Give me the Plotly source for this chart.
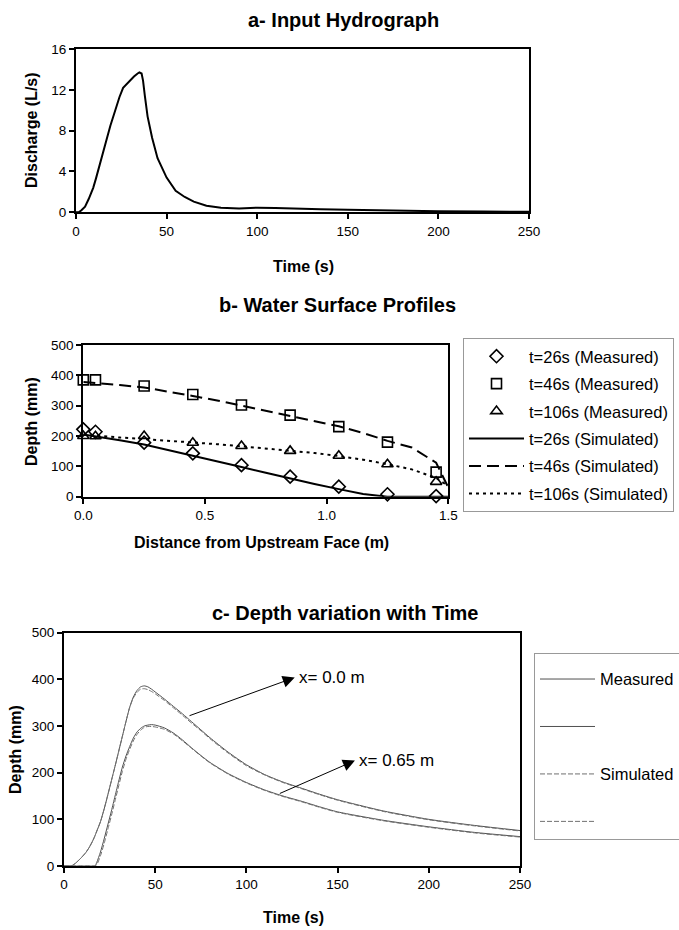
import plotly.graph_objects as go

# ---------------- data ----------------
# a- Input hydrograph
hydro_time = [0, 1.5, 3, 5, 7, 9.5, 11, 13, 15, 17, 19, 21, 22.5, 24, 26, 28, 30, 32, 34, 35,
              36.2, 37, 38, 39.5, 42, 45, 50, 55, 60, 65, 72, 80, 90, 100, 110, 120, 135, 150,
              175, 200, 225, 250]
hydro_discharge = [0, 0, 0.2, 0.55, 1.3, 2.4, 3.3, 4.7, 6.0, 7.2, 8.5, 9.6, 10.6, 11.3, 12.2, 12.6,
                   13.0, 13.3, 13.6, 13.7, 13.6, 12.9, 11.4, 9.4, 7.3, 5.3, 3.4, 2.1, 1.5, 1.05,
                   0.65, 0.45, 0.38, 0.45, 0.42, 0.35, 0.3, 0.25, 0.15, 0.1, 0.07, 0.05]

# b- Water surface profiles
profile_x = [0, 0.05, 0.25, 0.45, 0.65, 0.85, 1.05, 1.25, 1.45]
meas_t26 = [222, 214, 178, 143, 104, 66, 33, 8, 2]
meas_t46 = [385, 385, 365, 337, 302, 269, 231, 180, 81]
meas_t106 = [200, 199, 200, 178, 167, 151, 135, 107, 49]

sim_x = [0, 0.05, 0.15, 0.25, 0.35, 0.45, 0.55, 0.65, 0.75, 0.85, 0.95, 1.05, 1.15, 1.25, 1.35, 1.45, 1.5]
sim_t26 = [205, 199, 186, 172, 154, 135, 116, 98, 79, 60, 42, 25, 9, 0, 0, 0, 0]
sim_t46 = [378, 375, 368, 360, 347, 332, 317, 300, 285, 268, 251, 232, 210, 184, 162, 112, 30]
sim_t106 = [205, 201, 195, 190, 185, 180, 173, 166, 159, 152, 144, 134, 122, 107, 90, 62, 35]

# c- Depth variation with time
depth_time = [0, 4, 6, 8, 10, 12, 14, 16, 17, 18, 20, 22, 24, 26, 28, 30, 32, 34, 36, 38, 40, 42,
              44, 46, 48, 50, 55, 60, 65, 70, 75, 80, 90, 100, 110, 120, 130, 140, 150, 175, 200,
              225, 250]
meas_x0 = [0, 0, 5, 12, 20, 29, 41, 56, 65, 75, 95, 122, 152, 183, 214, 246, 278, 310, 340, 362,
           376, 384, 386, 384, 379, 373, 358, 342, 326, 309, 292, 275, 244, 217, 196, 180, 167,
           154, 142, 118, 100, 87, 76]
sim_x0 = [0, 0, 5, 12, 20, 29, 41, 56, 65, 75, 95, 122, 152, 183, 214, 246, 278, 310, 340, 360,
          372, 379, 380, 378, 374, 369, 355, 339, 323, 306, 290, 273, 242, 215, 195, 179, 166,
          153, 141, 117, 99, 86, 75]
meas_x065 = [0, 0, 0, 0, 0, 0, 0, 0, 0, 8, 30, 58, 88, 118, 150, 182, 212, 236, 256, 274, 287,
             295, 300, 302, 303, 302, 296, 285, 270, 253, 237, 222, 198, 179, 163, 150, 139, 127,
             116, 98, 84, 72, 63]
sim_x065 = [0, 0, 0, 0, 0, 0, 0, 0, 0, 3, 22, 48, 78, 108, 140, 172, 203, 229, 250, 268, 282,
            291, 297, 299, 299, 298, 293, 283, 268, 252, 236, 221, 197, 178, 162, 149, 138, 126,
            115, 97, 83, 71, 62]

# annotation anchors (data coords of panel c)
arrow0_tail = (68, 321)
arrow0_head = (126.5, 404)
arrow065_tail = (117.5, 154)
arrow065_head = (159.5, 226)

# ---------------- figure ----------------
FONT = "Liberation Sans, Arial, sans-serif"
W, H = 679, 930

fig = go.Figure()

# panel a
fig.add_trace(go.Scatter(x=hydro_time, y=hydro_discharge, mode="lines",
                         line=dict(color="black", width=2), showlegend=False,
                         xaxis="x", yaxis="y"))

# panel b - measured
for y, sym, nm in [(meas_t26, "diamond-open", "t=26s (Measured)"),
                   (meas_t46, "square-open", "t=46s (Measured)"),
                   (meas_t106, "triangle-up-open", "t=106s (Measured)")]:
    fig.add_trace(go.Scatter(x=profile_x, y=y, mode="markers", name=nm,
                             marker=dict(symbol=sym, size=10, color="black",
                                         line=dict(color="black", width=1.6)),
                             cliponaxis=False, xaxis="x2", yaxis="y2",
                             legend="legend", legendgroup=nm))
# panel b - simulated
for y, dash, nm in [(sim_t26, "solid", "t=26s (Simulated)"),
                    (sim_t46, "12px,6px", "t=46s (Simulated)"),
                    (sim_t106, "3px,4px", "t=106s (Simulated)")]:
    fig.add_trace(go.Scatter(x=sim_x, y=y, mode="lines", name=nm,
                             line=dict(color="black", width=2, dash=dash),
                             xaxis="x2", yaxis="y2", legend="legend", legendgroup=nm))

# panel c
for y, dash, col, nm, grp in [(meas_x0, "solid", "#505050", "Measured", "m0"),
                              (meas_x065, "solid", "#505050", " ", "m1"),
                              (sim_x0, "5px,2px", "#707070", "Simulated", "s0"),
                              (sim_x065, "5px,2px", "#707070", " ", "s1")]:
    fig.add_trace(go.Scatter(x=depth_time, y=y, mode="lines", name=nm,
                             line=dict(color=col, width=1, dash=dash, shape="spline",
                                       smoothing=0.6),
                             xaxis="x3", yaxis="y3", legend="legend2", legendgroup=grp))

axis_common = dict(showline=True, linecolor="black", linewidth=2, mirror=True,
                   ticks="outside", ticklen=5, tickwidth=2, tickcolor="black",
                   showgrid=False, zeroline=False,
                   tickfont=dict(family=FONT, size=13.5, color="black"))


def dom(px0, px1, total):
    return [px0 / total, px1 / total]


fig.update_layout(
    width=W, height=H,
    margin=dict(l=0, r=0, t=0, b=0, autoexpand=False),
    paper_bgcolor="white", plot_bgcolor="white",
    font=dict(family=FONT, color="black"),
    xaxis=dict(domain=dom(76, 529, W), range=[0, 250], tickvals=[0, 50, 100, 150, 200, 250],
               anchor="y", **axis_common),
    yaxis=dict(domain=[1 - 212.3 / H, 1 - 49 / H], range=[0, 16], tickvals=[0, 4, 8, 12, 16],
               anchor="x", **axis_common),
    xaxis2=dict(domain=dom(83.3, 448.3, W), range=[0, 1.5], tickvals=[0, 0.5, 1.0, 1.5],
                tickformat=".1f", anchor="y2", **axis_common),
    yaxis2=dict(domain=[1 - 496.7 / H, 1 - 345 / H], range=[0, 500],
                tickvals=[0, 100, 200, 300, 400, 500], anchor="x2", **axis_common),
    xaxis3=dict(domain=dom(64, 520, W), range=[0, 250], tickvals=[0, 50, 100, 150, 200, 250],
                anchor="y3", **axis_common),
    yaxis3=dict(domain=[1 - 866 / H, 1 - 632.7 / H], range=[0, 500],
                tickvals=[0, 100, 200, 300, 400, 500], anchor="x3", **axis_common),
    legend=dict(x=463 / W, y=1 - 338 / H, xanchor="left", yanchor="top",
                bordercolor="#999999", borderwidth=1, bgcolor="white",
                font=dict(family=FONT, size=16.5, color="black"),
                tracegroupgap=3, itemwidth=55, traceorder="grouped"),
    legend2=dict(x=534 / W, y=1 - 653 / H, xanchor="left", yanchor="top",
                 bordercolor="#999999", borderwidth=1, bgcolor="white",
                 font=dict(family=FONT, size=16.5, color="black"),
                 title=dict(text=" ", font=dict(family=FONT, size=6)),
                 tracegroupgap=23, itemwidth=55, traceorder="grouped"),
)

annots = []
# panel titles
for txt, cx, cy in [("a- Input Hydrograph", 343, 20),
                    ("b- Water Surface Profiles", 337.5, 305),
                    ("c- Depth variation with Time", 345, 613)]:
    annots.append(dict(text=f"<b>{txt}</b>", x=cx / W, y=1 - cy / H, xref="paper", yref="paper",
                       xanchor="center", yanchor="middle", showarrow=False,
                       font=dict(family=FONT, size=20, color="black")))
# axis titles
for txt, cx, cy, ang in [("Discharge (L/s)", 31, 130, -90), ("Time (s)", 303.5, 266, 0),
                         ("Depth (mm)", 31, 422, -90),
                         ("Distance from Upstream Face (m)", 261.5, 542, 0),
                         ("Depth (mm)", 15, 750, -90), ("Time (s)", 293, 917, 0)]:
    annots.append(dict(text=f"<b>{txt}</b>", x=cx / W, y=1 - cy / H, xref="paper", yref="paper",
                       xanchor="center", yanchor="middle", showarrow=False, textangle=ang,
                       font=dict(family=FONT, size=16, color="black")))
# arrows + labels in panel c
for tail, head, label in [(arrow0_tail, arrow0_head, "x= 0.0 m"),
                          (arrow065_tail, arrow065_head, "x= 0.65 m")]:
    annots.append(dict(x=head[0], y=head[1], ax=tail[0], ay=tail[1], xref="x3", yref="y3",
                       axref="x3", ayref="y3", text="", showarrow=True, arrowhead=2,
                       arrowsize=2.4, arrowwidth=1, arrowcolor="black", standoff=0))
    annots.append(dict(x=head[0], y=head[1], xref="x3", yref="y3", text=label,
                       xanchor="left", yanchor="middle", xshift=2, showarrow=False,
                       font=dict(family=FONT, size=17, color="black")))
fig.update_layout(annotations=annots)

fig.write_html("out.html", config={"displayModeBar": False},
               post_script="document.body.style.margin='0px';")
